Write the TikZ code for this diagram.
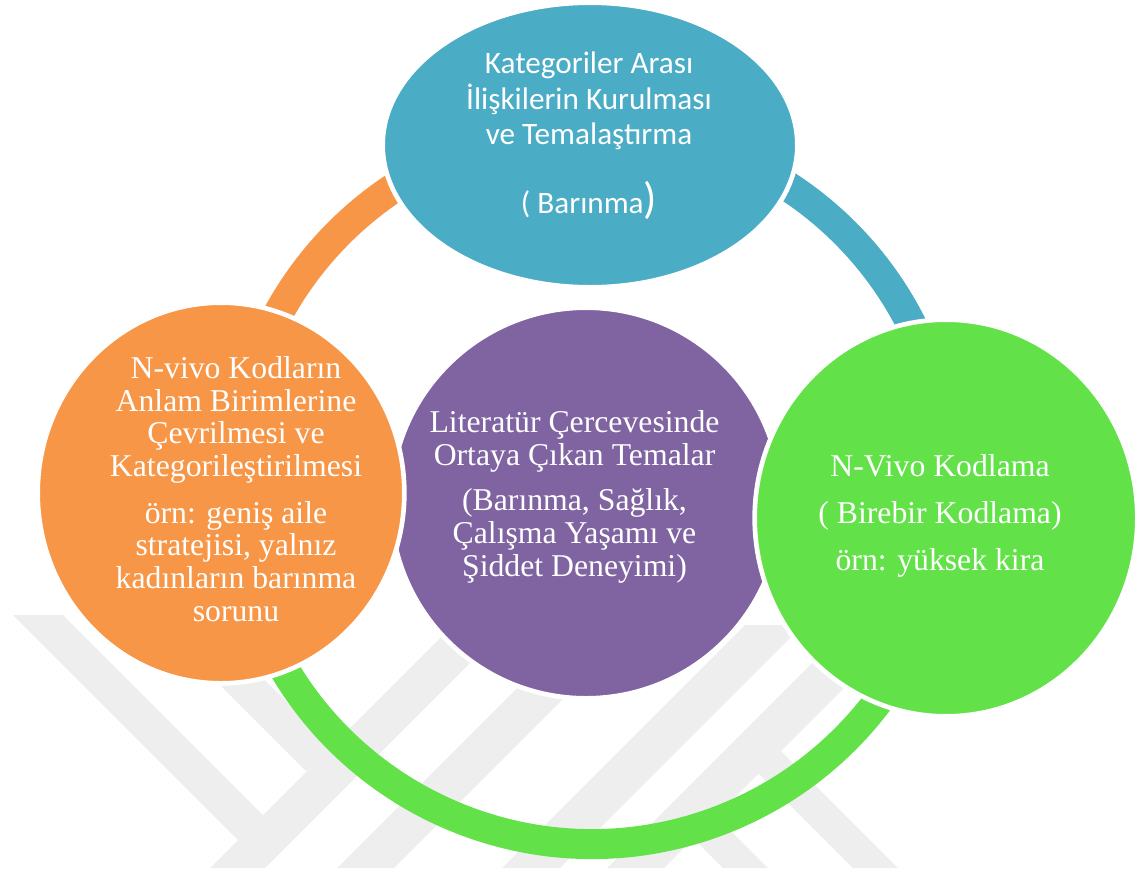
\documentclass[tikz,border=0pt]{standalone}
\usepackage{fontspec}
\setmainfont{Liberation Serif}
\newfontfamily\calib{Carlito}
\usetikzlibrary{shapes.geometric}
\definecolor{cteal}{HTML}{4BACC6}
\definecolor{cpurple}{HTML}{8064A2}
\definecolor{corange}{HTML}{F79646}
\definecolor{cgreen}{RGB}{98,226,72}
\definecolor{wm}{RGB}{238,238,238}
\begin{document}
\begin{tikzpicture}[x=0.75pt,y=-0.75pt,
  bub/.style={ellipse, draw=white, line width=3.5pt, inner sep=0pt},
  ringarc/.style={line width=22.5pt},
  wmark/.style={fill=wm},
  sertxt/.style={text=white, align=center, anchor=base, font=\fontsize{23.8}{24.4}\selectfont},
  caltxt/.style={text=white, align=center, anchor=base, font=\calib\fontsize{23.4}{26.4}\selectfont}
]
\useasboundingbox (0,0) rectangle (1138,868);
% watermark
\fill[wmark] (13,615) -- (63,615) -- (263,815) -- (238,840) -- cycle;
\fill[wmark] (195,660) -- (245,660) -- (331.5,746.5) -- (306.5,771.5) -- cycle;
\fill[wmark] (458,620) -- (513,620) -- (265,868) -- (210,868) -- cycle;
\fill[wmark] (565,640) -- (622,640) -- (394,868) -- (337,868) -- cycle;
\fill[wmark] (745,625) -- (803,625) -- (560,868) -- (502,868) -- cycle;
\fill[wmark] (835,640) -- (892,640) -- (664,868) -- (607,868) -- cycle;
\fill[wmark] (758.5,773.5) -- (781,751) -- (898,868) -- (853,868) -- cycle;
\fill[wmark] (685,830) -- (730,830) -- (768,868) -- (723,868) -- cycle;
% ring arcs
\coordinate (ring) at (592,486);
\draw[ringarc, corange] ([shift={(110:268.5pt)}]ring) arc[start angle=110, end angle=165, radius=268.5pt];
\draw[ringarc, cteal] ([shift={(20:268.5pt)}]ring) arc[start angle=20, end angle=70, radius=268.5pt];
\draw[ringarc, cgreen] ([shift={(200:268.5pt)}]ring) arc[start angle=200, end angle=340, radius=268.5pt];
% bubbles
\node[bub, fill=cpurple, minimum width=293pt, minimum height=293pt] (purple) at (586,503) {};
\node[bub, fill=cteal, minimum width=311pt, minimum height=213.5pt] (teal) at (590,145) {};
\node[bub, fill=corange, minimum width=275pt, minimum height=285.5pt] (orange) at (221,493) {};
\node[bub, fill=cgreen, minimum width=287pt, minimum height=297.5pt] (green) at (946,518) {};
% texts (anchor base = baseline of last line)
\node[caltxt] (tealT) at (589,213) {Kategoriler Arası\\İlişkilerin Kurulması\\ve Temalaştırma\\[22.5pt]( Barınma{\fontsize{33}{33}\selectfont)}};
\node[sertxt] (purpleT) at (574.5,576) {Literatür Çercevesinde\\Ortaya Çıkan Temalar\\[10pt](Barınma, Sağlık,\\Çalışma Yaşamı ve\\Şiddet Deneyimi)};
\node[sertxt] (orangeT) at (236,621) {N-vivo Kodların\\Anlam Birimlerine\\Çevrilmesi ve\\Kategorileştirilmesi\\[11pt]örn: geniş aile\\stratejisi, yalnız\\kadınların barınma\\sorunu};
\node[sertxt, font=\fontsize{23.8}{35}\selectfont] (greenT) at (940,570) {N-Vivo Kodlama\\( Birebir Kodlama)\\örn: yüksek kira};
\end{tikzpicture}
\end{document}
